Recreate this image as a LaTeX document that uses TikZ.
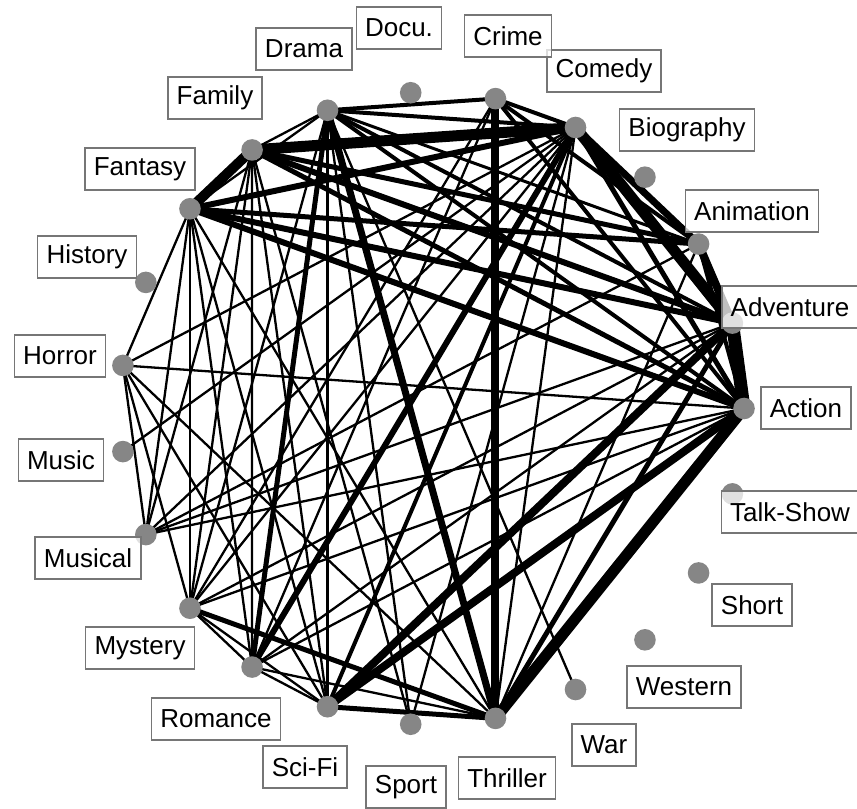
\documentclass[tikz,border=0pt]{standalone}
\usepackage{fontspec}
\setmainfont{Liberation Sans}
\usetikzlibrary{positioning}
\definecolor{dotgray}{RGB}{134,134,134}
\definecolor{boxgray}{RGB}{118,118,118}

\begin{document}
\begin{tikzpicture}[x=0.75pt,y=0.75pt,
   dot/.style={circle,fill=dotgray,inner sep=0pt,minimum size=16.2pt},
   lbl/.style={draw=boxgray,line width=1.1pt,fill=white,fill opacity=0.75,
     text opacity=1,inner xsep=6.6pt,inner ysep=0pt,minimum height=31.5pt,
     font=\fontsize{19.5}{20}\selectfont},
   link/.style={line width=#1*0.75pt}]
  \useasboundingbox (0,0) rectangle (857,808);
  % genres on the ring, counter-clockwise from Action
  \foreach \nm [count=\i from 0] in {act,adv,ani,bio,com,cri,doc,dra,fam,fan,his,
      hor,mus,msc,mys,rom,sci,spo,thr,war,wes,sho,tal}
    \path (432,399.5) ++({\i*360/23}:312 and 316.5) coordinate (\nm);
  % co-occurrence links
  \foreach \a/\b/\w in {act/adv/13,act/thr/11,act/sci/8,adv/sci/8,com/fam/11,
      fan/fam/10,com/adv/11,com/ani/7,adv/ani/8,ani/act/4,com/act/5,fan/com/6,
      fan/adv/6,fan/act/6,fan/ani/5,fam/adv/6,fam/act/5,fam/ani/5,dra/thr/7,
      dra/rom/5,dra/com/4,dra/cri/4,dra/adv/4,dra/act/4,dra/ani/3,cri/thr/8,
      cri/com/4,cri/ani/4,cri/act/4,com/rom/6,com/sci/4,sci/thr/5,mys/thr/5,
      adv/thr/5,rom/thr/2.3,
      dra/fam/2.3,dra/fan/2.3,dra/sci/2.3,dra/spo/2.3,dra/war/2.3,dra/mys/2.3,
      fan/hor/2.3,fan/msc/2.3,fan/mys/2.3,fan/rom/2.3,fan/sci/2.3,fan/thr/2.3,
      fam/msc/2.3,fam/mys/2.3,fam/rom/2.3,fam/sci/2.3,fam/spo/2.3,
      hor/act/2.3,hor/mys/2.3,hor/msc/2.3,hor/thr/2.3,hor/sci/2.3,mus/com/2.3,
      msc/act/2.3,msc/adv/2.3,msc/ani/2.3,mys/act/2.3,mys/adv/2.3,mys/sci/2.3,
      mys/rom/2.3,rom/act/2.3,rom/adv/2.3,rom/sci/2.3,spo/com/2.3,thr/com/2.3,
      thr/ani/2.3,com/mys/2.3,com/msc/2.3,com/hor/2.3,cri/mys/2.3,cri/rom/2.3}
    \draw[link=\w] (\a) -- (\b);
  \foreach \nm in {act,adv,ani,bio,com,cri,doc,dra,fam,fan,his,
      hor,mus,msc,mys,rom,sci,spo,thr,war,wes,sho,tal}
    \node[dot] (\nm-d) at (\nm) {};
  % labels
  \node[lbl] (l-act) at (806,400) {Action};
  \node[lbl] (l-adv) at (790,501) {Adventure};
  \node[lbl] (l-ani) at (752,597) {Animation};
  \node[lbl] (l-bio) at (687,678) {Biography};
  \node[lbl] (l-com) at (604,737) {Comedy};
  \node[lbl] (l-cri) at (508,772) {Crime};
  \node[lbl] (l-doc) at (399,780) {Docu.};
  \node[lbl] (l-dra) at (304,759) {Drama};
  \node[lbl] (l-fam) at (215,710) {Family};
  \node[lbl] (l-fan) at (140,639) {Fantasy};
  \node[lbl] (l-his) at (87,551) {History};
  \node[lbl] (l-hor) at (60,452) {Horror};
  \node[lbl] (l-mus) at (61,348) {Music};
  \node[lbl] (l-msc) at (88,250) {Musical};
  \node[lbl] (l-mys) at (140,160) {Mystery};
  \node[lbl] (l-rom) at (216,89) {Romance};
  \node[lbl] (l-sci) at (305,41) {Sci-Fi};
  \node[lbl] (l-spo) at (406,21) {Sport};
  \node[lbl] (l-thr) at (507,30) {Thriller};
  \node[lbl] (l-war) at (604,63) {War};
  \node[lbl] (l-wes) at (684,121) {Western};
  \node[lbl] (l-sho) at (752,203) {Short};
  \node[lbl] (l-tal) at (790,296) {Talk-Show};
\end{tikzpicture}
\end{document}
